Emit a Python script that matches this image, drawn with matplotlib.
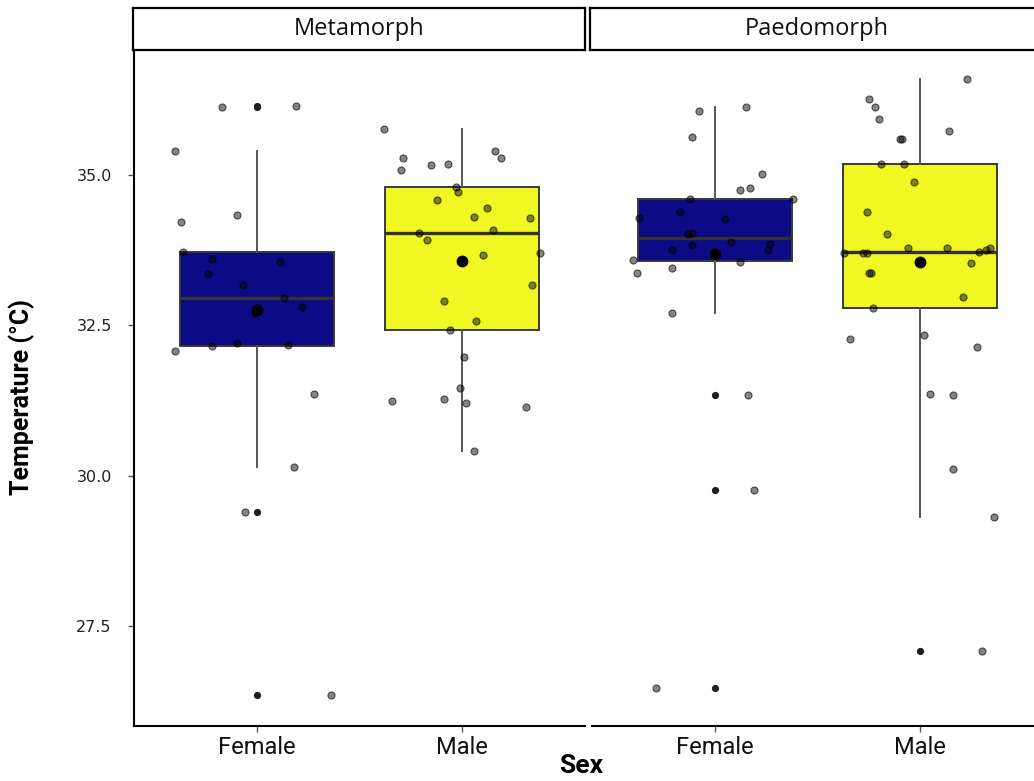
import numpy as np
import matplotlib.pyplot as plt

# Body temperature by sex within each morph
morphs = ['Metamorph', 'Paedomorph']
sexes = ['Female', 'Male']
fill_colors = ['#0c0a84', '#f0f723']

# temperature readings (degC) and horizontal jitter offsets for each group
meta_female = [36.13, 36.15, 35.40, 34.22, 34.33, 33.72, 33.61, 33.36, 33.56, 33.17,
               32.95, 32.81, 32.71, 32.07, 32.16, 32.20, 32.18, 31.36, 30.14, 29.39, 26.35]
meta_female_jit = [-0.17, 0.19, -0.40, -0.37, -0.10, -0.36, -0.22, -0.24, 0.11, -0.07,
                   0.13, 0.22, -0.01, -0.40, -0.22, -0.10, 0.15, 0.28, 0.18, -0.06, 0.36]

meta_male = [35.77, 35.29, 35.40, 35.29, 35.08, 35.17, 35.19, 34.81, 34.72, 34.58,
             34.45, 34.31, 34.29, 34.08, 34.04, 33.92, 33.67, 33.70, 33.17, 32.91,
             32.57, 32.43, 31.98, 31.46, 31.25, 31.27, 31.21, 31.14, 30.41]
meta_male_jit = [-0.38, -0.29, 0.16, 0.19, -0.30, -0.15, -0.07, -0.03, -0.02, -0.12,
                 0.12, 0.06, 0.33, 0.15, -0.21, -0.17, 0.10, 0.38, 0.34, -0.09,
                 0.07, -0.06, 0.01, -0.01, -0.34, -0.09, 0.02, 0.31, 0.06]

paedo_female = [36.06, 36.13, 35.63, 35.01, 34.75, 34.79, 34.61, 34.61, 34.29, 34.38,
                34.27, 34.02, 34.04, 33.88, 33.86, 33.84, 33.76, 33.76, 33.59, 33.56,
                33.38, 33.45, 32.70, 31.34, 29.77, 26.48]
paedo_female_jit = [-0.08, 0.15, -0.11, 0.23, 0.12, 0.17, -0.12, 0.38, -0.37, -0.17,
                    0.05, -0.13, -0.11, 0.08, 0.27, -0.11, -0.21, 0.26, -0.40, 0.12,
                    -0.38, -0.21, -0.21, 0.16, 0.19, -0.29]

paedo_male = [36.60, 36.26, 36.13, 35.94, 35.74, 35.60, 35.60, 35.19, 35.19, 34.88,
              34.38, 34.02, 33.79, 33.79, 33.71, 33.71, 33.71, 33.72, 33.76, 33.79,
              33.54, 33.37, 33.37, 32.97, 32.79, 32.27, 32.34, 32.15, 31.36, 31.34,
              30.11, 29.32, 27.09]
paedo_male_jit = [0.23, -0.25, -0.22, -0.20, 0.14, -0.10, -0.09, -0.19, -0.08, -0.03,
                  -0.26, -0.16, -0.06, 0.13, -0.37, -0.28, -0.26, 0.29, 0.32, 0.34,
                  0.25, -0.25, -0.24, 0.21, -0.23, -0.34, 0.02, 0.28, 0.05, 0.16,
                  0.16, 0.36, 0.30]

groups = {
    'Metamorph': [(meta_female, meta_female_jit), (meta_male, meta_male_jit)],
    'Paedomorph': [(paedo_female, paedo_female_jit), (paedo_male, paedo_male_jit)],
}

y_ticks = [27.5, 30.0, 32.5, 35.0]
y_lim = (25.84, 37.08)

narrow = ['Roboto', 'DejaVu Sans']


def box_stats(vals):
    v = np.asarray(vals)
    q1, med, q3 = np.percentile(v, [25, 50, 75])
    iqr = q3 - q1
    lo = v[v >= q1 - 1.5 * iqr].min()
    hi = v[v <= q3 + 1.5 * iqr].max()
    return dict(q1=q1, med=med, q3=q3, whislo=lo, whishi=hi,
                fliers=v[(v < lo) | (v > hi)], mean=v.mean())


W, H = 1034, 781
fig = plt.figure(figsize=(W / 100, H / 100), dpi=100)


def px_axes(x0, y0, x1, y1):
    return fig.add_axes([x0 / W, 1 - y1 / H, (x1 - x0) / W, (y1 - y0) / H])


# panel and strip extents in pixels (the right facet runs past the edge)
panels = [(134, 585, 133, 585), (592, 1043, 590, 1044)]

for i, morph in enumerate(morphs):
    x0, x1, sx0, sx1 = panels[i]
    ax = px_axes(x0, 50, x1, 726)

    for j, (vals, jit) in enumerate(groups[morph]):
        pos = j + 1
        st = box_stats(vals)
        ax.bxp([st], positions=[pos], widths=0.75, patch_artist=True,
               showcaps=False, showfliers=True,
               boxprops=dict(facecolor=fill_colors[j], edgecolor='#3a3a3a', linewidth=1.4),
               medianprops=dict(color='#333333', linewidth=2.4),
               whiskerprops=dict(color='#555555', linewidth=1.4),
               flierprops=dict(marker='o', markerfacecolor='#1e1e1e',
                               markeredgecolor='none', markersize=5.2))
        ax.scatter(pos + np.array(jit), vals, s=26, facecolor=(0, 0, 0, 0.48),
                   edgecolor=(0, 0, 0, 0.6), linewidth=0.8, zorder=3)
        ax.plot(pos, st['mean'], marker='o', color='black', markersize=7.5, zorder=4)

    ax.set_xlim(0.4, 2.6)
    ax.set_ylim(*y_lim)
    ax.set_xticks([1, 2])
    ax.set_xticklabels(sexes, family=narrow, fontsize=17, color='#111111')
    ax.set_yticks(y_ticks)
    ax.set_yticklabels([f'{t:.1f}' for t in y_ticks], fontsize=11.5, color='#222222')
    ax.tick_params(axis='both', length=4, width=1, color='#555555')
    ax.tick_params(axis='y', pad=12)
    ax.tick_params(axis='x', pad=3)
    for side in ['top', 'right']:
        ax.spines[side].set_visible(False)
    ax.spines['bottom'].set_linewidth(1.5)
    ax.spines['left'].set_linewidth(1.5)
    if i > 0:
        ax.spines['left'].set_visible(False)
        ax.tick_params(axis='y', left=False, labelleft=False)

    # facet strip
    sa = px_axes(sx0, 8, sx1, 50)
    sa.set_xticks([])
    sa.set_yticks([])
    for sp in sa.spines.values():
        sp.set_linewidth(1.6)
        sp.set_color('black')
    sa.text(0.5, 0.5, morph, ha='center', va='center', fontsize=17,
            family=['Open Sans', 'DejaVu Sans'], color='#111111')

fig.text(581 / W, 1 - 766 / H, 'Sex', ha='center', va='center', fontsize=19,
         fontweight='bold', family=narrow)
fig.text(22 / W, 1 - 397 / H, 'Temperature (\u00b0C)', ha='center', va='center',
         rotation=90, fontsize=18, fontweight='bold', family=narrow)

fig.savefig('out.png', dpi=100)
